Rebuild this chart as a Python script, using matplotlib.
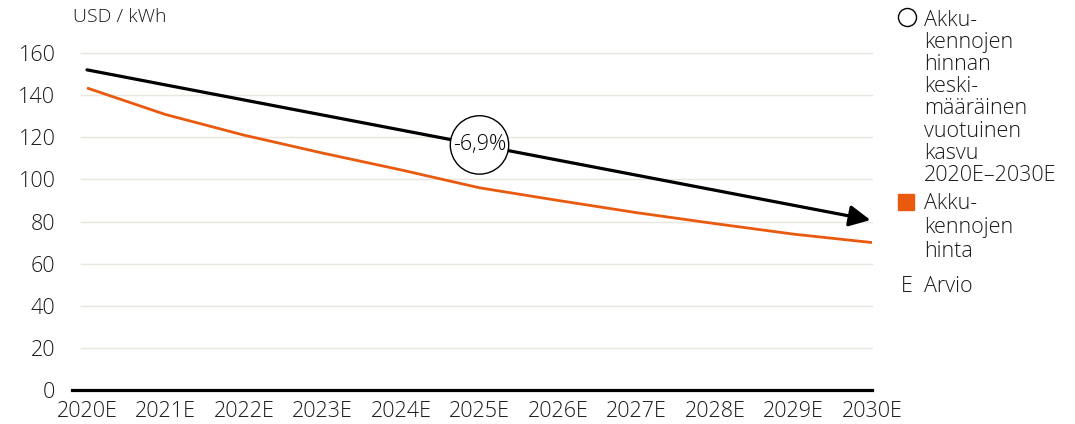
import matplotlib.pyplot as plt
from matplotlib.lines import Line2D

plt.rcParams['font.family'] = ['Open Sans', 'DejaVu Sans']

years = ['2020E', '2021E', '2022E', '2023E', '2024E', '2025E',
         '2026E', '2027E', '2028E', '2029E', '2030E']
price = [143.4, 130.8, 121.0, 112.5, 104.5, 96.0, 90.0, 84.2, 79.0, 74.0, 70.0]
trend_start = 152.0
trend_end = 80.7
cagr_label = '-6,9%'
yticks = [0, 20, 40, 60, 80, 100, 120, 140, 160]

orange = '#e95a0f'
grid_col = '#e9e5df'
text_col = '#1a1a1a'

W, H = 1075, 424
fig = plt.figure(figsize=(W / 100, H / 100), dpi=100)
# axes in pixel coords: left 72, right 872, bottom y=390, top (160) y=53
ax = fig.add_axes([72 / W, (H - 390) / H, 800 / W, 337 / H])

x = list(range(len(years)))
ax.set_xlim(-15 / 78.5, len(years) - 1)
ax.set_ylim(0, 160)

# gridlines
for v in yticks[1:]:
    ax.plot([-6 / 78.5, len(years) - 1], [v, v], color=grid_col, lw=1.0,
            zorder=1, clip_on=False)

ax.plot(x, price, color=orange, lw=2.0, zorder=3, clip_on=False,
        solid_capstyle='butt')

ax.annotate('', xy=(x[-1] - 0.02, trend_end), xytext=(x[0], trend_start),
            arrowprops=dict(arrowstyle='-|>', lw=2.3, color='black',
                            mutation_scale=32, shrinkA=0, shrinkB=0),
            zorder=4)

mid = (x[0] + x[-1]) / 2
ax.text(mid, (trend_start + trend_end) / 2, cagr_label, fontsize=15.5,
        ha='center', va='center', color='black', zorder=5,
        fontweight='light',
        bbox=dict(boxstyle='circle,pad=0.12', fc='white', ec='black', lw=1.0))

for s in ['top', 'right', 'left']:
    ax.spines[s].set_visible(False)
ax.spines['bottom'].set_linewidth(2.3)
ax.spines['bottom'].set_color('black')
ax.spines['bottom'].set_zorder(6)

ax.set_xticks(x)
ax.set_xticklabels(years)
ax.set_yticks(yticks)
ax.tick_params(axis='both', length=0, labelsize=15.5, colors=text_col)
ax.tick_params(axis='y', pad=12)
ax.tick_params(axis='x', pad=8)
for lab in ax.get_xticklabels() + ax.get_yticklabels():
    lab.set_fontweight('light')

fig.text(73 / W, 1 - 17 / H, 'USD / kWh', fontsize=14, color=text_col,
         ha='left', va='center', fontweight='light')

# legend
fig.add_artist(Line2D([907 / W], [1 - 17 / H], marker='o', markersize=13,
                      markerfacecolor='white', markeredgecolor='black',
                      markeredgewidth=1.0, linestyle='none',
                      transform=fig.transFigure))
fig.text(924 / W, 1 - 10 / H,
         'Akku-\nkennojen\nhinnan\nkeski-\nmääräinen\nvuotuinen\nkasvu\n2020E\u20132030E',
         fontsize=15.5, color=text_col, ha='left', va='top', linespacing=1.07,
         fontweight='light')

fig.add_artist(Line2D([906 / W], [1 - 202 / H], marker='s', markersize=12,
                      markerfacecolor=orange, markeredgecolor=orange,
                      linestyle='none', transform=fig.transFigure))
fig.text(924 / W, 1 - 193 / H, 'Akku-\nkennojen\nhinta',
         fontsize=15.5, color=text_col, ha='left', va='top', linespacing=1.2,
         fontweight='light')

fig.text(907 / W, 1 - 286 / H, 'E', fontsize=15.5, color=text_col,
         ha='center', va='center', fontweight='light')
fig.text(924 / W, 1 - 286 / H, 'Arvio', fontsize=15.5, color=text_col,
         ha='left', va='center', fontweight='light')

fig.savefig('out.png', dpi=100)
